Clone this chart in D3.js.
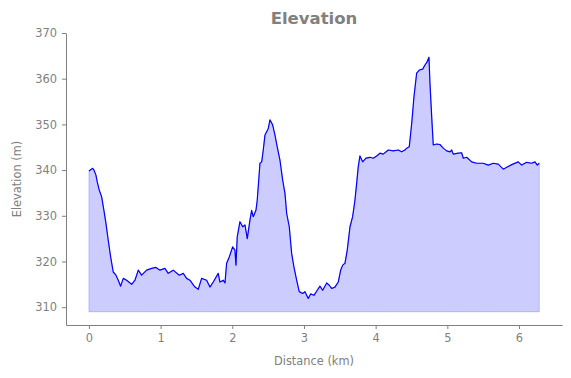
<!DOCTYPE html>
<html>
<head>
<meta charset="utf-8">
<script src="https://cdn.jsdelivr.net/npm/d3@7"></script>
<style>
  body { margin: 0; background: #fff; }
  svg { display: block; font-family: "DejaVu Sans", sans-serif; }
</style>
</head>
<body>
<svg id="chart" width="571" height="378"></svg>
<script>
// distance along the track (km)
const distance = [
  0.000, 0.052, 0.070, 0.098, 0.116, 0.144, 0.177, 0.209, 0.237, 0.269,
  0.303, 0.339, 0.377, 0.409, 0.442, 0.479, 0.526, 0.596, 0.642, 0.688,
  0.735, 0.805, 0.875, 0.935, 0.991, 1.060, 1.106, 1.176, 1.260, 1.316,
  1.363, 1.409, 1.479, 1.525, 1.572, 1.642, 1.688, 1.734, 1.804, 1.828,
  1.874, 1.898, 1.921, 1.958, 2.005, 2.037, 2.051, 2.069, 2.107, 2.145,
  2.177, 2.209, 2.247, 2.270, 2.292, 2.330, 2.348, 2.386, 2.410, 2.432,
  2.456, 2.479, 2.502, 2.525, 2.563, 2.595, 2.627, 2.665, 2.703, 2.735,
  2.759, 2.795, 2.828, 2.860, 2.898, 2.934, 2.982, 3.014, 3.060, 3.093,
  3.139, 3.185, 3.223, 3.261, 3.317, 3.353, 3.386, 3.432, 3.478, 3.512,
  3.540, 3.572, 3.604, 3.642, 3.679, 3.711, 3.735, 3.757, 3.781, 3.819,
  3.865, 3.921, 3.967, 4.014, 4.060, 4.106, 4.176, 4.246, 4.316, 4.363,
  4.409, 4.433, 4.469, 4.503, 4.535, 4.572, 4.609, 4.656, 4.688, 4.712,
  4.744, 4.758, 4.782, 4.804, 4.851, 4.897, 4.943, 4.991, 5.037, 5.061,
  5.083, 5.153, 5.200, 5.223, 5.270, 5.340, 5.409, 5.502, 5.571, 5.641,
  5.711, 5.781, 5.828, 5.898, 5.990, 6.037, 6.107, 6.177, 6.223, 6.255,
  6.283
];

// elevation (m)
const elevation = [
  339.8, 340.4, 340.0, 338.9, 337.4, 335.6, 334.2, 331.2, 328.4, 324.7,
  321.0, 317.7, 317.0, 315.9, 314.6, 316.3, 315.9, 315.0, 315.9, 318.1,
  317.0, 318.1, 318.5, 318.7, 318.1, 318.5, 317.4, 318.1, 317.0, 317.4,
  316.3, 315.9, 314.4, 313.9, 316.3, 315.9, 314.4, 315.5, 317.4, 315.5,
  315.9, 315.3, 319.6, 321.0, 323.2, 322.5, 319.2, 325.4, 328.7, 327.6,
  328.0, 325.0, 329.1, 331.2, 329.8, 331.2, 333.4, 341.5, 341.8, 344.4,
  347.7, 348.4, 349.1, 351.0, 349.9, 347.7, 345.1, 342.2, 337.8, 334.9,
  330.5, 327.6, 321.8, 318.8, 315.9, 313.4, 313.0, 313.4, 311.9, 312.9,
  312.6, 313.7, 314.6, 313.7, 315.3, 314.8, 314.1, 314.4, 315.5, 318.1,
  319.2, 319.6, 322.5, 327.6, 329.8, 333.4, 337.1, 340.7, 343.1, 341.8,
  342.6, 342.8, 342.6, 343.1, 343.7, 343.5, 344.4, 344.2, 344.4, 344.0,
  344.4, 344.8, 345.1, 350.2, 356.1, 361.2, 361.9, 362.1, 363.0, 363.5,
  364.7, 359.0, 351.7, 345.5, 345.7, 345.6, 344.8, 344.2, 344.0, 344.4,
  343.5, 343.7, 343.8, 342.6, 342.8, 341.8, 341.5, 341.5, 341.1, 341.5,
  341.3, 340.2, 340.6, 341.2, 341.8, 341.1, 341.7, 341.5, 341.8, 341.1,
  341.5
];

const fillBase = 309;
const xTicks = [0, 1, 2, 3, 4, 5, 6];
const yTicks = [310, 320, 330, 340, 350, 360, 370];

const points = distance.map((d, i) => ({ d, e: elevation[i] }));

const svg = d3.select("#chart");
const m = { left: 66, right: 562, top: 33, bottom: 325 };
const grey = "#808080";

const x = d3.scaleLinear().domain([-0.32, 6.6]).range([m.left, m.right]);
const y = d3.scaleLinear().domain([306.1, 370]).range([m.bottom, m.top]);

// filled area under the profile
const area = d3.area()
  .x((p) => x(p.d))
  .y0(y(fillBase))
  .y1((p) => y(p.e));

svg.append("path")
  .datum(points)
  .attr("d", area)
  .attr("fill", "rgba(0,0,255,0.2)")
  .attr("stroke", "rgba(0,0,255,0.2)")
  .attr("stroke-width", 1);

// profile line
const line = d3.line()
  .x((p) => x(p.d))
  .y((p) => y(p.e));

svg.append("path")
  .datum(points)
  .attr("d", line)
  .attr("fill", "none")
  .attr("stroke", "#0000ff")
  .attr("stroke-width", 1.2)
  .attr("stroke-linejoin", "round");

// axes
const xAxis = svg.append("g")
  .attr("transform", `translate(0,${m.bottom})`)
  .call(d3.axisBottom(x).tickValues(xTicks).tickFormat(d3.format("d")).tickSize(4).tickPadding(5).tickSizeOuter(0));

const yAxis = svg.append("g")
  .attr("transform", `translate(${m.left},0)`)
  .call(d3.axisLeft(y).tickValues(yTicks).tickFormat(d3.format("d")).tickSize(4).tickPadding(5).tickSizeOuter(0));

[xAxis, yAxis].forEach((g) => {
  g.select(".domain").attr("stroke", grey).attr("stroke-width", 1);
  g.selectAll(".tick line").attr("stroke", grey);
  g.selectAll(".tick text")
    .attr("fill", grey)
    .style("font-family", "DejaVu Sans")
    .style("font-size", "11.4px");
});

// title and axis labels
svg.append("text")
  .attr("x", (m.left + m.right) / 2)
  .attr("y", 24)
  .attr("text-anchor", "middle")
  .style("font-size", "16.5px")
  .style("font-weight", "bold")
  .style("fill", grey)
  .text("Elevation");

svg.append("text")
  .attr("x", (m.left + m.right) / 2)
  .attr("y", 365)
  .attr("text-anchor", "middle")
  .style("font-size", "11.4px")
  .style("fill", grey)
  .text("Distance (km)");

svg.append("text")
  .attr("transform", `translate(21,${(m.top + m.bottom) / 2}) rotate(-90)`)
  .attr("text-anchor", "middle")
  .style("font-size", "11.4px")
  .style("fill", grey)
  .text("Elevation (m)");
</script>
</body>
</html>
